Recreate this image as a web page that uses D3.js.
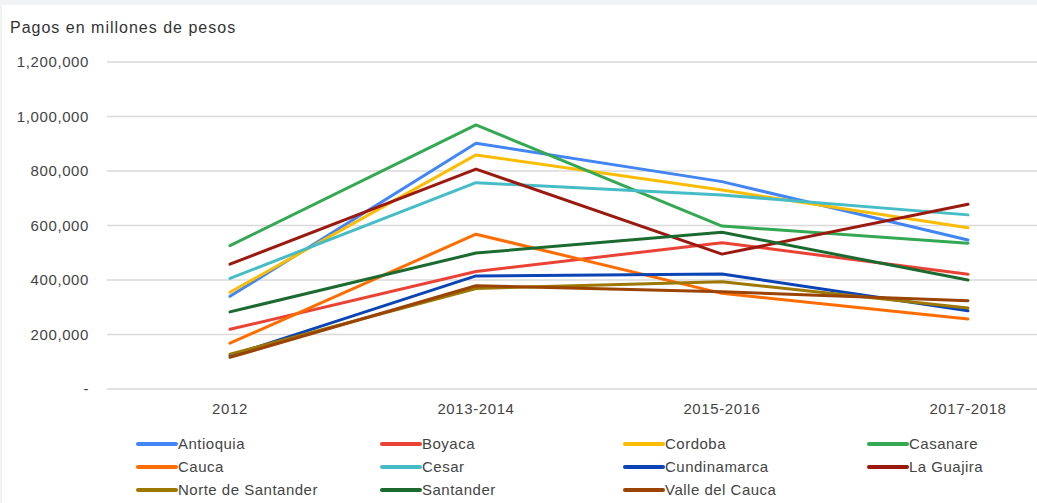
<!DOCTYPE html>
<meta charset="utf-8">
<style>
body { margin: 0; background: #fff; }
svg { display: block; font-family: "Liberation Sans", Arial, sans-serif; }
.grid line { stroke: #d9d9d9; stroke-width: 1.5px; }
.axis text { fill: #444; font-size: 15px; letter-spacing: 0.6px; }
.legend text { fill: #444; font-size: 15px; letter-spacing: 0.5px; }
.series path { fill: none; stroke-width: 3px; stroke-linejoin: round; stroke-linecap: round; }
</style>
<body>
<script src="https://d3js.org/d3.v7.min.js"></script>
<script>

var periods = ["2012", "2013-2014", "2015-2016", "2017-2018"];
var yTicks = [0, 200000, 400000, 600000, 800000, 1000000, 1200000];

var names = ["Antioquia", "Boyaca", "Cordoba", "Casanare", "Cauca", "Cesar",
             "Cundinamarca", "La Guajira", "Norte de Santander", "Santander", "Valle del Cauca"];
var colors = ["#4285f4", "#ea4335", "#fbbc04", "#34a853", "#ff6d01", "#46bdc6",
              "#0b44b5", "#9b1a0f", "#9c7800", "#1b6b30", "#9a4303"];

var antioquia   = [340000, 902000, 761000, 547000];
var boyaca      = [219000, 431000, 537000, 421000];
var cordoba     = [355000, 859000, 730000, 592000];
var casanare    = [526000, 969000, 598000, 535000];
var cauca       = [168000, 568000, 351000, 257000];
var cesar       = [406000, 757000, 712000, 639000];
var cundinamarca= [122000, 415000, 422000, 287000];
var laGuajira   = [458000, 807000, 495000, 678000];
var norte       = [128000, 369000, 394000, 297000];
var santander   = [283000, 499000, 575000, 400000];
var valle       = [116000, 379000, 357000, 324000];

var values = [antioquia, boyaca, cordoba, casanare, cauca, cesar,
              cundinamarca, laGuajira, norte, santander, valle];

var width = 1037, height = 503;

var svg = d3.select("body").append("svg")
    .attr("width", width)
    .attr("height", height);

// frame of the screenshot
svg.append("rect").attr("x", 0).attr("y", 0).attr("width", width).attr("height", 5).attr("fill", "#f1f3f4");
svg.append("rect").attr("x", 0).attr("y", 0).attr("width", 2).attr("height", height).attr("fill", "#f1f3f4");

var x = d3.scaleBand().domain(periods).range([107, 1091]);
var y = d3.scaleLinear().domain([0, 1200000]).range([389, 62]);

svg.append("text")
    .attr("x", 10).attr("y", 33)
    .attr("fill", "#333")
    .style("font-size", "16px")
    .style("letter-spacing", "1px")
    .text("Pagos en millones de pesos");

var grid = svg.append("g").attr("class", "grid");
grid.selectAll("line").data(yTicks).enter().append("line")
    .attr("x1", 107).attr("x2", width)
    .attr("y1", function(d) { return y(d); })
    .attr("y2", function(d) { return y(d); });

var fmt = d3.format(",");
svg.append("g").attr("class", "axis")
  .selectAll("text").data(yTicks).enter().append("text")
    .attr("x", 89)
    .attr("y", function(d) { return y(d); })
    .attr("dy", "0.35em")
    .attr("text-anchor", "end")
    .text(function(d) { return d === 0 ? "-" : fmt(d); });

svg.append("g").attr("class", "axis")
  .selectAll("text").data(periods).enter().append("text")
    .attr("x", function(d) { return x(d) + x.bandwidth() / 2; })
    .attr("y", 414)
    .attr("text-anchor", "middle")
    .text(function(d) { return d; });

var line = d3.line()
    .x(function(d, i) { return x(periods[i]) + x.bandwidth() / 2; })
    .y(function(d) { return y(d); });

svg.append("g").attr("class", "series")
  .selectAll("path").data(values).enter().append("path")
    .attr("stroke", function(d, i) { return colors[i]; })
    .attr("d", line);

var colX = [138, 382, 625, 869];
var rowY = [444, 467, 490];
var legend = svg.append("g").attr("class", "legend")
  .selectAll("g").data(names).enter().append("g")
    .attr("transform", function(d, i) {
      return "translate(" + colX[i % 4] + "," + rowY[Math.floor(i / 4)] + ")";
    });
legend.append("line")
    .attr("x1", 0).attr("x2", 38)
    .attr("stroke", function(d, i) { return colors[i]; })
    .attr("stroke-width", 4)
    .attr("stroke-linecap", "round");
legend.append("text")
    .attr("x", 40).attr("dy", "0.35em")
    .text(function(d) { return d; });

</script>
</body>
